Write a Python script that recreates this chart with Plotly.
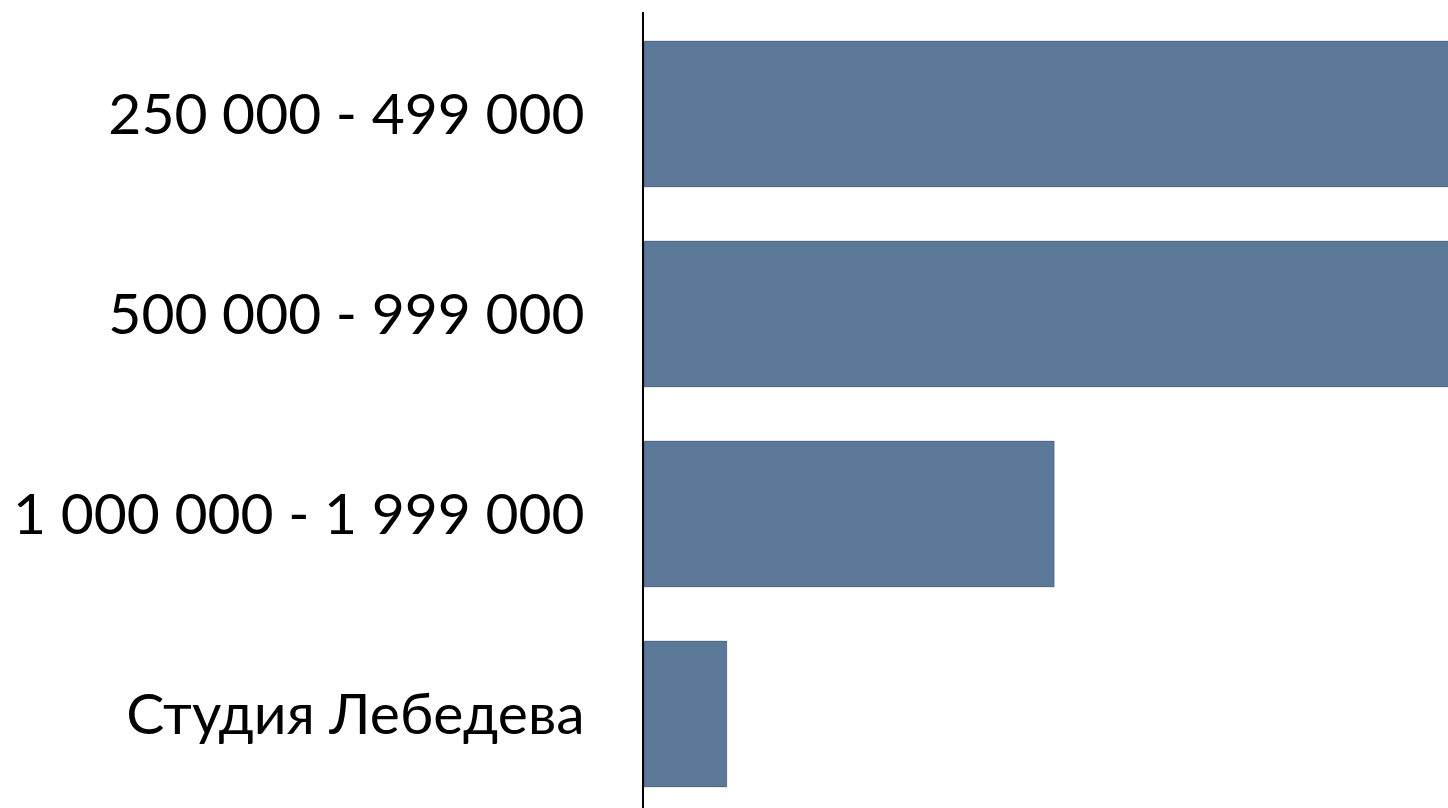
import plotly.graph_objects as go

categories = ["250 000 - 499 000", "500 000 - 999 000", "1 000 000 - 1 999 000", "Студия Лебедева"]
values = [12.0, 12.0, 4.95, 1.0]

bar_color = "#5b7898"

fig = go.Figure()
fig.add_trace(go.Bar(
    y=categories,
    x=values,
    orientation="h",
    width=0.73,
    marker=dict(color=bar_color, line=dict(color="rgba(0,0,0,0.12)", width=1.5)),
    hoverinfo="x+y",
))

fig.update_layout(
    width=1448,
    height=808,
    margin=dict(l=644, r=0, t=12, b=0),
    paper_bgcolor="white",
    plot_bgcolor="white",
    showlegend=False,
    font=dict(family="Lato, 'Open Sans', sans-serif", color="black"),
    xaxis=dict(
        range=[0, 9.7],
        visible=False,
        showgrid=False,
        zeroline=False,
        fixedrange=True,
    ),
    yaxis=dict(
        type="category",
        range=[3.47, -0.51],
        showgrid=False,
        zeroline=False,
        showline=True,
        linecolor="black",
        linewidth=2,
        ticks="",
        ticklabelstandoff=46,
        tickfont=dict(size=57, family="Lato, 'Open Sans', sans-serif", color="black"),
        fixedrange=True,
    ),
)

fig.write_html(
    "out.html",
    config={"displayModeBar": False},
    post_script="document.body.style.margin='0';document.body.style.overflow='hidden';",
)
